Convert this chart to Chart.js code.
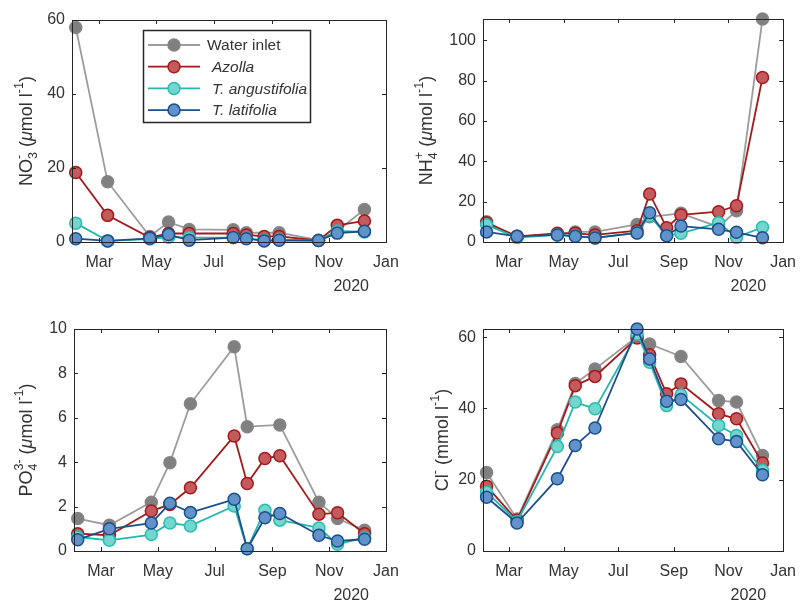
<!DOCTYPE html>
<html>
<head>
<meta charset="utf-8">
<script src="https://cdn.jsdelivr.net/npm/chart.js@4"></script>
<style>
  body { margin: 0; background: #fff; }
  #wrap { position: relative; width: 807px; height: 601px; }
  #wrap canvas { position: absolute; left: 0; top: 0; }
</style>
</head>
<body>
<div id="wrap">
  <canvas id="no3" width="807" height="601"></canvas>
  <canvas id="nh4" width="807" height="601"></canvas>
  <canvas id="po4" width="807" height="601"></canvas>
  <canvas id="cl" width="807" height="601"></canvas>
</div>
<script>
// sampling dates and axis ticks
const sampleDates = ['2020-02-05', '2020-03-10', '2020-04-24', '2020-05-14', '2020-06-05', '2020-07-22',
                     '2020-08-05', '2020-08-24', '2020-09-09', '2020-10-21', '2020-11-10', '2020-12-09'];
const monthTicks = ['2020-03-01', '2020-05-01', '2020-07-01', '2020-09-01', '2020-11-01', '2021-01-01'];
const monthLabels = ['Mar', 'May', 'Jul', 'Sep', 'Nov', 'Jan'];
const yearLabel = '2020';
const seriesNames = ['Water inlet', 'Azolla', 'T. angustifolia', 'T. latifolia'];

// NO3- (umol/l)
const no3Inlet  = [58, 16.3, 1.5, 5.4, 3.4, 3.3, 2.5, null, 2.5, 0.5, 3.0, 8.8];
const no3Azolla = [18.8, 7.2, 1.2, 2.3, 2.3, 2.3, 1.9, 1.5, 1.5, 0.4, 4.5, 5.7];
const no3Angust = [5.1, 0.3, 0.8, 1.3, 1.2, 1.2, 1.0, 0.5, 0.6, 0.4, 3.0, 2.7];
const no3Latif  = [0.9, 0.3, 1.0, 2.0, 0.5, 1.2, 0.9, 0.3, 0.45, 0.4, 2.4, 2.9];
const no3Ticks  = [0, 20, 40, 60];

// NH4+ (umol/l)
const nh4Inlet  = [10, 2.5, 4, 5, 5, 8.7, 12.5, null, 14.2, 7.5, 15.5, 110.5];
const nh4Azolla = [9.5, 2.8, 4.3, 4.3, 3.5, 5.6, 23.8, 7.1, 13.4, 15, 18, 81.5];
const nh4Angust = [8.5, 2.2, 3.5, 3, 2, 4.5, 13, 3.2, 4.3, 9.6, 2.3, 7.3];
const nh4Latif  = [5, 2.8, 3.5, 2.8, 2, 4.5, 14.5, 3.1, 7.9, 6.3, 4.8, 2.1];
const nh4Ticks  = [0, 20, 40, 60, 80, 100];

// PO4 3- (umol/l)
const po4Inlet  = [1.46, 1.16, 2.2, 3.98, 6.63, 9.2, 5.6, null, 5.68, 2.2, 1.46, 0.93];
const po4Azolla = [0.78, 0.71, 1.8, 2.1, 2.85, 5.18, 3.04, 4.17, 4.29, 1.66, 1.72, 0.78];
const po4Angust = [0.63, 0.48, 0.74, 1.26, 1.13, 2.03, 0.1, 1.84, 1.39, 1.04, 0.3, 0.6];
const po4Latif  = [0.51, 1.0, 1.26, 2.15, 1.73, 2.33, 0.1, 1.5, 1.69, 0.71, 0.45, 0.53];
const po4Ticks  = [0, 2, 4, 6, 8, 10];

// Cl- (mmol/l)
const clInlet  = [22, 9, 34, 47, 51.1, 60.2, 58.1, null, 54.6, 42.2, 41.8, 26.8];
const clAzolla = [18.2, 8.6, 33.1, 46.4, 49, 59.8, 55.1, 44.1, 46.9, 38.5, 37.1, 24.7];
const clAngust = [16.5, 8.3, 29.3, 41.8, 39.9, 60.9, 53, 40.8, 43.8, 35.2, 32.4, 22.6];
const clLatif  = [15.1, 7.85, 20.3, 29.6, 34.5, 62.3, 53.9, 42, 42.5, 31.5, 30.7, 21.4];
const clTicks  = [0, 20, 40, 60];

// styles
const lineColors = ['#9c9c9c', '#a3191c', '#25b7ae', '#1c4f8a'];
const fillColors = ['#808080', '#c45a5c', '#72d5ce', '#6192c9'];
const edgeColors = ['#858585', '#a3191c', '#2cbab1', '#1c4f8a'];
const FONT = '"Liberation Sans", Arial, sans-serif';
const TEXT = '#333333';

const toTime = d => Date.parse(d + 'T00:00:00Z');
const sampleTimes = sampleDates.map(toTime);
const tickTimes = monthTicks.map(toTime);
const xMin = toTime('2020-02-01');
const xMax = toTime('2021-01-01');

// draws the label with stacked sub/superscripts, rotated
function drawRichTitle(ctx, parts, x, yCenter) {
  const big = '18px ' + FONT, small = '12.5px ' + FONT;
  const widthOf = p => {
    if (p.t !== undefined) { ctx.font = (p.it ? 'italic ' : '') + big; return ctx.measureText(p.t).width; }
    ctx.font = small;
    return Math.max(p.sub ? ctx.measureText(p.sub).width : 0, p.sup ? ctx.measureText(p.sup).width : 0);
  };
  ctx.save();
  const total = parts.reduce((s, p) => s + widthOf(p), 0);
  ctx.translate(x, yCenter);
  ctx.rotate(-Math.PI / 2);
  ctx.fillStyle = TEXT;
  ctx.textBaseline = 'alphabetic';
  ctx.textAlign = 'left';
  let cx = -total / 2;
  parts.forEach(p => {
    const w = widthOf(p);
    if (p.t !== undefined) {
      ctx.font = (p.it ? 'italic ' : '') + big;
      ctx.fillText(p.t, cx, 0);
    } else {
      ctx.font = small;
      if (p.sub) ctx.fillText(p.sub, cx, 5);
      if (p.sup) ctx.fillText(p.sup, cx, -9);
    }
    cx += w;
  });
  ctx.restore();
}

const framePlugin = {
  id: 'frame',
  afterDraw(chart, args, opts) {
    const ctx = chart.ctx;
    const a = chart.chartArea;
    const xs = chart.scales.x, ys = chart.scales.y;
    ctx.save();
    ctx.strokeStyle = '#262626';
    ctx.lineWidth = 1;
    ctx.strokeRect(Math.round(a.left) + 0.5, Math.round(a.top) + 0.5,
                   Math.round(a.right - a.left), Math.round(a.bottom - a.top));
    ctx.beginPath();
    xs.ticks.forEach(t => {
      const px = Math.round(xs.getPixelForValue(t.value)) + 0.5;
      ctx.moveTo(px, a.bottom); ctx.lineTo(px, a.bottom - 4);
      ctx.moveTo(px, a.top); ctx.lineTo(px, a.top + 4);
    });
    ys.ticks.forEach(t => {
      const py = Math.round(ys.getPixelForValue(t.value)) + 0.5;
      ctx.moveTo(a.left, py); ctx.lineTo(a.left + 4, py);
      ctx.moveTo(a.right, py); ctx.lineTo(a.right - 4, py);
    });
    ctx.stroke();
    // year label under the date axis
    ctx.fillStyle = TEXT;
    ctx.font = '16px ' + FONT;
    ctx.textAlign = 'right';
    ctx.textBaseline = 'alphabetic';
    ctx.fillText(yearLabel, a.right - 17, a.bottom + 49);
    ctx.restore();
    drawRichTitle(ctx, opts.title, opts.titleX, (a.top + a.bottom) / 2);

    if (opts.legend) {
      const box = opts.legend;
      ctx.save();
      ctx.fillStyle = '#fff';
      ctx.fillRect(box.x, box.y, box.w, box.h);
      ctx.strokeStyle = '#262626';
      ctx.strokeRect(box.x + 0.5, box.y + 0.5, box.w, box.h);
      chart.data.datasets.forEach((ds, i) => {
        const y = box.y + 15 + i * 21.7;
        ctx.strokeStyle = ds.borderColor;
        ctx.lineWidth = ds.borderWidth;
        ctx.beginPath();
        ctx.moveTo(box.x + 5, y); ctx.lineTo(box.x + 57, y);
        ctx.stroke();
        ctx.beginPath();
        ctx.arc(box.x + 31, y, 6, 0, Math.PI * 2);
        ctx.fillStyle = ds.pointBackgroundColor;
        ctx.fill();
        ctx.lineWidth = ds.pointBorderWidth;
        ctx.strokeStyle = ds.pointBorderColor;
        ctx.stroke();
        ctx.fillStyle = TEXT;
        ctx.font = (i === 0 ? '' : 'italic ') + '15.5px ' + FONT;
        ctx.textAlign = 'left';
        ctx.textBaseline = 'middle';
        ctx.fillText(ds.label, box.x + (i === 0 ? 64 : 69), y + 1);
      });
      ctx.restore();
    }
  }
};

function makePanel(id, box, values, yMax, yTicks, frameOpts) {
  const datasets = values.map((v, i) => ({
    label: seriesNames[i],
    data: sampleTimes.map((t, j) => ({ x: t, y: v[j] })),
    borderColor: lineColors[i],
    backgroundColor: fillColors[i],
    pointBackgroundColor: fillColors[i],
    pointBorderColor: edgeColors[i],
    pointRadius: 6,
    pointBorderWidth: 1.5,
    borderWidth: 1.8,
    tension: 0,
    spanGaps: true,
    clip: false,
    order: 4 - i
  }));
  return new Chart(document.getElementById(id), {
    type: 'line',
    data: { datasets },
    options: {
      responsive: false,
      animation: false,
      events: [],
      layout: {
        padding: { left: box.left - 40, top: box.top, right: 807 - box.right, bottom: 601 - box.bottom - 40 }
      },
      scales: {
        x: {
          type: 'linear',
          min: xMin,
          max: xMax,
          afterFit: s => { s.height = 40; },
          afterBuildTicks: s => { s.ticks = tickTimes.map(v => ({ value: v })); },
          grid: { display: false, drawTicks: false },
          border: { display: false },
          ticks: {
            autoSkip: false,
            maxRotation: 0,
            padding: 11,
            color: TEXT,
            font: { family: FONT, size: 16 },
            callback: v => monthLabels[tickTimes.indexOf(v)]
          }
        },
        y: {
          min: 0,
          max: yMax,
          afterFit: s => { s.width = 40; },
          afterBuildTicks: s => { s.ticks = yTicks.map(v => ({ value: v })); },
          grid: { display: false, drawTicks: false },
          border: { display: false },
          ticks: {
            padding: 7,
            color: TEXT,
            font: { family: FONT, size: 16 },
            callback: v => String(v)
          }
        }
      },
      plugins: {
        legend: { display: false },
        tooltip: { enabled: false },
        frame: frameOpts
      }
    },
    plugins: [framePlugin]
  });
}

makePanel('no3', { left: 72, top: 20, right: 386, bottom: 242 },
  [no3Inlet, no3Azolla, no3Angust, no3Latif], 60, no3Ticks, {
    titleX: 32,
    title: [{ t: 'NO' }, { sub: '3', sup: '-' }, { t: ' (' }, { t: 'μ', it: true }, { t: 'mol l' }, { sup: '-1' }, { t: ')' }],
    legend: { x: 143, y: 30, w: 167, h: 92 }
  });

makePanel('nh4', { left: 483, top: 19, right: 792, bottom: 242 },
  [nh4Inlet, nh4Azolla, nh4Angust, nh4Latif], 110.5, nh4Ticks, {
    titleX: 432,
    title: [{ t: 'NH' }, { sub: '4', sup: '+' }, { t: ' (' }, { t: 'μ', it: true }, { t: 'mol l' }, { sup: '-1' }, { t: ')' }]
  });

makePanel('po4', { left: 74, top: 329, right: 386, bottom: 551 },
  [po4Inlet, po4Azolla, po4Angust, po4Latif], 10, po4Ticks, {
    titleX: 32,
    title: [{ t: 'PO' }, { sub: '4', sup: '3-' }, { t: ' (' }, { t: 'μ', it: true }, { t: 'mol l' }, { sup: '-1' }, { t: ')' }]
  });

makePanel('cl', { left: 483, top: 329, right: 793, bottom: 551 },
  [clInlet, clAzolla, clAngust, clLatif], 62.3, clTicks, {
    titleX: 448,
    title: [{ t: 'Cl' }, { sup: '-' }, { t: ' (mmol l' }, { sup: '-1' }, { t: ')' }]
  });
</script>
</body>
</html>
